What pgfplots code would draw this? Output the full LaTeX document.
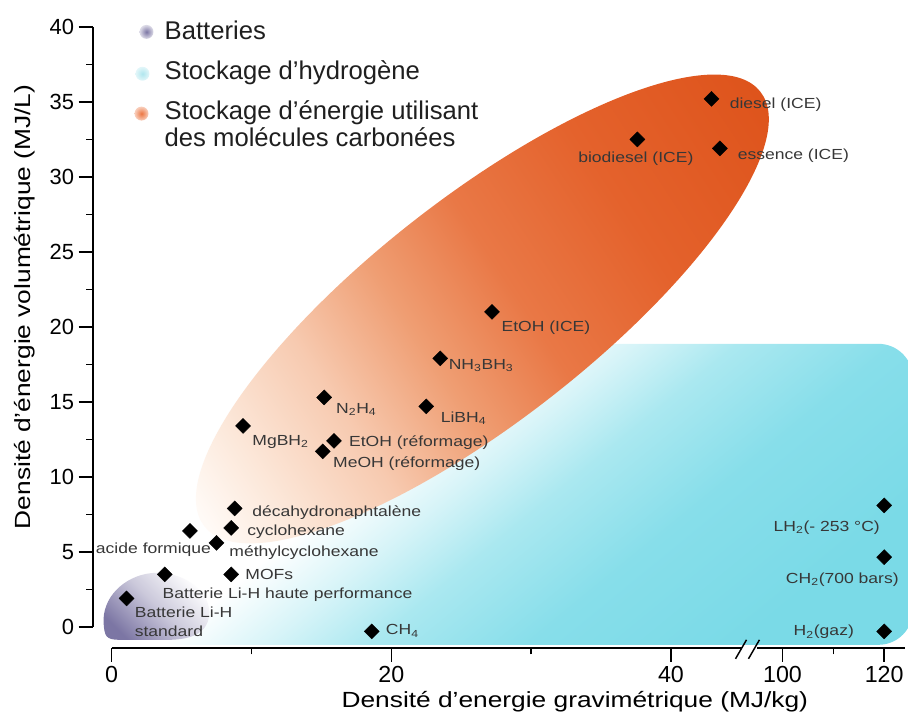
\documentclass[border=0pt]{standalone}
\usepackage{pgfplots}
\pgfplotsset{compat=1.18}
\usepackage{fontspec}
\setmainfont{Liberation Sans}
\newfontfamily\widefont{Liberation Sans}[FakeStretch=1.2]

\definecolor{battD}{RGB}{124,118,164}
\definecolor{hydD}{RGB}{175,230,238}
\definecolor{orD}{RGB}{236,118,66}
\definecolor{o0}{RGB}{255,250,246}
\definecolor{o1}{RGB}{252,232,218}
\definecolor{o2}{RGB}{247,202,176}
\definecolor{o3}{RGB}{239,158,115}
\definecolor{o4}{RGB}{233,120,70}
\definecolor{o5}{RGB}{228,98,44}
\definecolor{o6}{RGB}{222,84,28}
\definecolor{c1}{RGB}{215,244,248}
\definecolor{c2}{RGB}{170,232,240}
\definecolor{c3}{RGB}{135,222,234}
\definecolor{c4}{RGB}{122,218,231}
\definecolor{dlab}{RGB}{55,55,55}

\pgfdeclarehorizontalshading{orangesh}{100bp}{color(0bp)=(o0); color(20.4bp)=(o0); color(26.3bp)=(o1); color(35.2bp)=(o2); color(44.1bp)=(o3); color(53bp)=(o4); color(64.8bp)=(o5); color(79.6bp)=(o6); color(100bp)=(o6)}
\pgfdeclarehorizontalshading{cyansh}{100bp}{color(0bp)=(white); color(43bp)=(white); color(47bp)=(c1); color(51bp)=(c2); color(57bp)=(c3); color(65bp)=(c4); color(100bp)=(c4)}

\tikzset{px/.style={x=0.75pt,y=-0.75pt,shift={(-93,-650)}}}
\newcommand{\dlf}{\widefont\fontsize{11}{13}\selectfont}

\begin{document}
\begin{tikzpicture}
% ---------- background regions (drawn in pixel coordinates of the reference)
\begin{scope}[px]
\useasboundingbox (0,0) rectangle (908,721);
\begin{scope}
\clip[rounded corners=26pt] (140,345) rectangle (916,647);
\shade[shading=cyansh, shading angle=-50.7] (110,76) rectangle (950,916);
\end{scope}
\shade[shading=orangesh, shading angle=33.3, rotate around={38:(484,310)}] (484,310) ellipse [x radius=354, y radius=112];
\shade[top color=white, bottom color=battD, middle color=battD!40!white, shading angle=-45]
  (104,626) .. controls (102,600) and (124,578) .. (152,575)
  .. controls (182,572) and (210,592) .. (210,614)
  .. controls (210,634) and (194,642) .. (168,642)
  -- (120,642) .. controls (106,642) and (105,638) .. (104,626) -- cycle;
\end{scope}

\begin{axis}[
  at={(0,0)}, anchor=south west,
  x=10.5225pt, y=11.2875pt,
  xmin=-1.354, xmax=56.6, ymin=-1.395, ymax=40,
  x coord trafo/.code={\pgfmathparse{((#1)>70)*(47.98+((#1)-100)*0.3635)+((#1)<=70)*(#1)}},
  xtick={0,20,40,100,120}, xticklabels={0,20,40,100,120},
  minor xtick={10,30,110},
  ytick={0,5,...,40},
  minor ytick={2.5,7.5,...,37.5},
  tick pos=left,
  tick align=outside,
  major tick length=10.5pt, minor tick length=5pt,
  every tick/.append style={black, line width=1.1pt},
  every minor tick/.append style={black, line width=1.1pt},
  axis line style={draw=none},
  xticklabel style={font=\fontsize{17.5}{20}\selectfont, text=black},
  yticklabel style={font=\fontsize{16.5}{19}\selectfont, text=black},
  /pgf/number format/assume math mode=true,
  xlabel={Densité d’energie gravimétrique (MJ/kg)},
  ylabel={Densité d’énergie volumétrique (MJ/L)},
  every axis x label/.style={at={(axis description cs:0.595,-0.0963)}, anchor=base, font=\widefont\fontsize{16.5}{19}\selectfont},
  every axis y label/.style={at={(axis description cs:-0.0763,0.549)}, anchor=base, rotate=90, font=\widefont\fontsize{16.5}{19}\selectfont},
  clip=false,
]
\addplot[only marks, mark=square*, mark size=4pt,
  mark options={rotate=45, fill=black, draw=black, line width=0.3pt}] coordinates {
  (42.9,35.2)  % diesel (ICE)
  (37.6,32.5)  % biodiesel (ICE)
  (43.5,31.9)  % essence (ICE)
  (27.2,21.0)  % EtOH (ICE)
  (23.5,17.9)  % NH3BH3
  (15.2,15.3)  % N2H4
  (22.5,14.7)  % LiBH4
  (9.4,13.4)   % MgBH2
  (15.9,12.4)  % EtOH (reformage)
  (15.1,11.7)  % MeOH (reformage)
  (8.8,7.9)    % decahydronaphtalene
  (8.55,6.6)   % cyclohexane
  (5.6,6.4)    % acide formique
  (7.5,5.6)    % methylcyclohexane
  (8.55,3.5)   % MOFs
  (3.8,3.5)    % Batterie Li-H haute performance
  (1.07,1.9)   % Batterie Li-H standard
  (18.6,-0.3)  % CH4
  (120,8.1)    % LH2
  (120,4.65)   % CH2 (700 bars)
  (120,-0.3)   % H2 (gaz)
};
\end{axis}

% ---------- axis lines, break, labels, legend
\begin{scope}[px]
\draw[line width=1.3pt, black] (93,27) -- (93,629);
\draw[line width=1.3pt, black] (112,650) -- (744,650);
\draw[line width=1.3pt, black] (760,650) -- (908,650);
\draw[line width=1.1pt, black] (738,661) -- (749,642);
\draw[line width=1.1pt, black] (751,661) -- (762,642);

\begin{scope}[every node/.style={inner sep=0pt, font=\dlf, text=dlab}]
\node[anchor=base west] at (732,109) {diesel (ICE)};
\node[anchor=base] at (638,163) {biodiesel (ICE)};
\node[anchor=base west] at (740,160) {essence (ICE)};
\node[anchor=base west] at (503,333) {EtOH (ICE)};
\node[anchor=base west] at (450,371) {NH\textsubscript{3}BH\textsubscript{3}};
\node[anchor=base west] at (337,415) {N\textsubscript{2}H\textsubscript{4}};
\node[anchor=base west] at (442,424) {LiBH\textsubscript{4}};
\node[anchor=base west] at (253,447) {MgBH\textsubscript{2}};
\node[anchor=base west] at (350,448) {EtOH (réformage)};
\node[anchor=base west] at (334,469) {MeOH (réformage)};
\node[anchor=base west] at (253,518) {décahydronaphtalène};
\node[anchor=base west] at (248,537) {cyclohexane};
\node[anchor=base east] at (212,555) {acide formique};
\node[anchor=base west] at (230,558) {méthylcyclohexane};
\node[anchor=base west] at (246,581) {MOFs};
\node[anchor=base west] at (163,601) {Batterie Li-H haute performance};
\node[anchor=base west] at (135,620) {Batterie Li-H};
\node[anchor=base west] at (135,639) {standard};
\node[anchor=base west] at (387,637) {CH\textsubscript{4}};
\node[anchor=base east] at (883,533) {LH\textsubscript{2}(- 253 °C)};
\node[anchor=base east] at (902,585) {CH\textsubscript{2}(700 bars)};
\node[anchor=base east] at (857,638) {H\textsubscript{2}(gaz)};
\end{scope}

% legend
\shade[inner color=battD, outer color=battD!25!white] (147,32) circle (7);
\shade[inner color=hydD, outer color=hydD!35!white] (143,74) circle (7);
\shade[inner color=orD, outer color=orD!35!white] (142,114) circle (7);
\begin{scope}[every node/.style={inner sep=0pt, anchor=base west, font=\fontsize{19.3}{22}\selectfont, text=black!88}]
\node at (165,40) {Batteries};
\node at (165,80) {Stockage d’hydrogène};
\node at (165,120) {Stockage d’énergie utilisant};
\node at (165,147) {des molécules carbonées};
\end{scope}
\end{scope}
\end{tikzpicture}
\end{document}
